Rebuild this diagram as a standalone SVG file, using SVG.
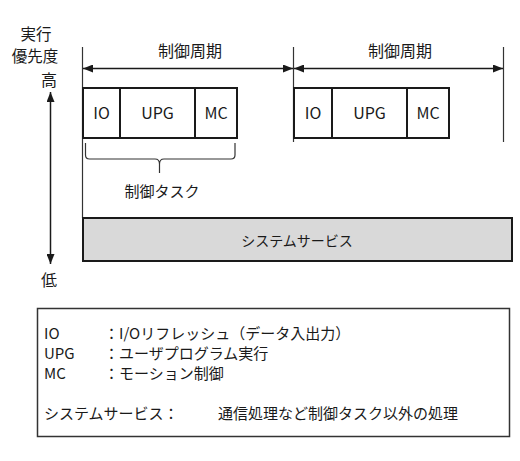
<svg xmlns="http://www.w3.org/2000/svg" width="520" height="461" viewBox="0 0 520 461">
<style>
text{font-family:"Noto Sans CJK JP","DejaVu Sans",sans-serif;font-size:15px;fill:#1a1a1a}
.c{text-anchor:middle}
.big{font-size:16px}
.box{fill:#fff;stroke:#1a1a1a;stroke-width:2}
.ln{stroke:#1a1a1a;stroke-width:1.5;fill:none}
.thin{stroke:#333;stroke-width:1.2;fill:none}
</style>
<defs>
<marker id="ah" viewBox="0 0 10 8" refX="10" refY="4" markerWidth="10" markerHeight="8" markerUnits="userSpaceOnUse" orient="auto-start-reverse">
<path d="M0,0 L10,4 L0,8 Z" fill="#1a1a1a"/>
</marker>
</defs>
<rect width="520" height="461" fill="#fff"/>
<g id="axis">
<text class="c" x="36" y="40" style="font-size:15.5px">実行</text>
<text class="c" x="35" y="62" style="font-size:15.5px">優先度</text>
<text class="c big" x="49" y="86">高</text>
<text class="c big" x="49" y="286">低</text>
<line class="ln" x1="50.5" y1="92" x2="50.5" y2="264" marker-start="url(#ah)" marker-end="url(#ah)"/>
</g>
<g id="connectors">
<line class="thin" x1="82.5" y1="47" x2="82.5" y2="218"/>
<line class="thin" x1="293.5" y1="47" x2="293.5" y2="142"/>
<line class="thin" x1="503.5" y1="47" x2="503.5" y2="142"/>
<line class="ln" x1="83" y1="68.5" x2="293" y2="68.5" marker-start="url(#ah)" marker-end="url(#ah)"/>
<line class="ln" x1="294" y1="68.5" x2="503" y2="68.5" marker-start="url(#ah)" marker-end="url(#ah)"/>
<path class="thin" d="M85.5,143 L85.5,155 Q85.5,159 89.5,159 L155,159 Q159.5,159 159.5,164 L159.5,173 M159.5,164 Q159.5,159 164,159 L231,159 Q235,159 235,155 L235,143"/>
</g>
<g id="cycle1">
<text class="c big" x="190" y="57">制御周期</text>
<rect class="box" x="83" y="88" width="37" height="50"/>
<rect class="box" x="120" y="88" width="75" height="50"/>
<rect class="box" x="195" y="88" width="42" height="50"/>
<text class="c big" x="101.5" y="119">IO</text>
<text class="c big" x="157.5" y="119">UPG</text>
<text class="c big" x="216" y="119">MC</text>
</g>
<g id="cycle2">
<text class="c big" x="400" y="57">制御周期</text>
<rect class="box" x="294" y="88" width="38" height="50"/>
<rect class="box" x="332" y="88" width="75" height="50"/>
<rect class="box" x="407" y="88" width="42" height="50"/>
<text class="c big" x="313" y="119">IO</text>
<text class="c big" x="369.5" y="119">UPG</text>
<text class="c big" x="428" y="119">MC</text>
</g>
<g id="task-label">
<text class="c" x="162" y="197">制御タスク</text>
</g>
<g id="system-service">
<rect x="83" y="218" width="429" height="43" fill="#d9d9d9" stroke="#1a1a1a" stroke-width="2"/>
<text class="c" x="297" y="246" style="font-size:14px">システムサービス</text>
</g>
<g id="legend">
<rect x="37.5" y="308.5" width="472" height="128" fill="#fff" stroke="#333" stroke-width="1.5"/>
<text x="44" y="339">IO</text>
<text x="104" y="339">：</text>
<text x="119" y="339">I/Oリフレッシュ（データ入出力）</text>
<text x="44" y="359">UPG</text>
<text x="104" y="359">：</text>
<text x="119" y="359">ユーザプログラム実行</text>
<text x="44" y="379">MC</text>
<text x="104" y="379">：</text>
<text x="119" y="379">モーション制御</text>
<text x="44" y="419">システムサービス：</text>
<text x="218" y="419">通信処理など制御タスク以外の処理</text>
</g>
</svg>
